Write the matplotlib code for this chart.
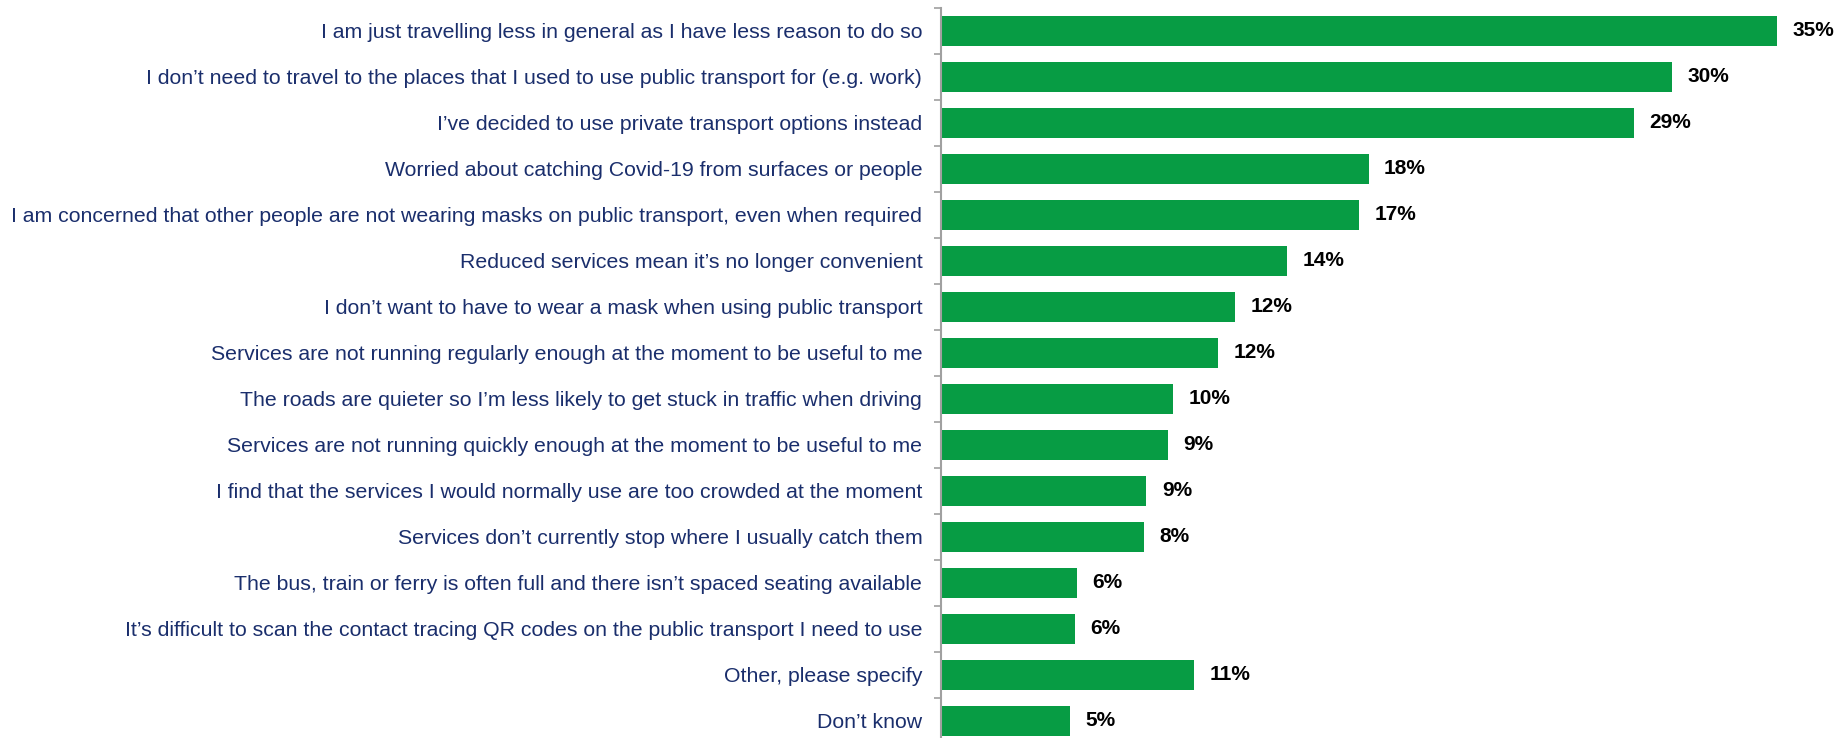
import numpy as np
import matplotlib
matplotlib.use("Agg")
import matplotlib.pyplot as plt

# Motivos (de cima para baixo)
motivos = [
    "I am just travelling less in general as I have less reason to do so",
    "I don\u2019t need to travel to the places that I used to use public transport for (e.g. work)",
    "I\u2019ve decided to use private transport options instead",
    "Worried about catching Covid-19 from surfaces or people",
    "I am concerned that other people are not wearing masks on public transport, even when required",
    "Reduced services mean it\u2019s no longer convenient",
    "I don\u2019t want to have to wear a mask when using public transport",
    "Services are not running regularly enough at the moment to be useful to me",
    "The roads are quieter so I\u2019m less likely to get stuck in traffic when driving",
    "Services are not running quickly enough at the moment to be useful to me",
    "I find that the services I would normally use are too crowded at the moment",
    "Services don\u2019t currently stop where I usually catch them",
    "The bus, train or ferry is often full and there isn\u2019t spaced seating available",
    "It\u2019s difficult to scan the contact tracing QR codes on the public transport I need to use",
    "Other, please specify",
    "Don\u2019t know",
]

# comprimento das barras (estimado da imagem) e rótulos arredondados
valores = [35.0, 30.6, 29.0, 17.9, 17.5, 14.5, 12.3, 11.6, 9.7, 9.5, 8.6, 8.5, 5.7, 5.6, 10.6, 5.4]
rotulos = ["35%", "30%", "29%", "18%", "17%", "14%", "12%", "12%", "10%", "9%", "9%", "8%", "6%", "6%", "11%", "5%"]

verde = "#079C44"
azul_texto = "#1A2E6C"

fig = plt.figure(figsize=(18.39, 7.38), dpi=100)
ax = fig.add_axes([941 / 1839, -6 / 738, (1777 - 941) / 1839, 736 / 738])

y = np.arange(len(motivos))
ax.barh(y, valores, height=0.65, color=verde)

# rótulos de porcentagem ao lado de cada barra
for yi, v, r in zip(y, valores, rotulos):
    ax.text(v + 0.65, yi, r, va="center", ha="left", fontsize=15,
            fontweight="bold", color="black", family="Liberation Sans", clip_on=False)

ax.set_xlim(0, 35)
ax.set_ylim(len(motivos) - 0.5, -0.5)

ax.set_yticks(y)
ax.set_yticklabels(motivos, fontsize=15.3, color=azul_texto, family="Liberation Sans")
ax.tick_params(axis="y", which="major", length=0, pad=13.5)
ax.set_yticks(np.arange(-0.5, len(motivos), 1), minor=True)
ax.tick_params(axis="y", which="minor", length=5, color="#A0A0A0", width=1.2)

ax.set_xticks([])
for s in ["top", "right", "bottom"]:
    ax.spines[s].set_visible(False)
ax.spines["left"].set_color("#A0A0A0")
ax.spines["left"].set_linewidth(1.5)

fig.savefig("out.png", dpi=100)
